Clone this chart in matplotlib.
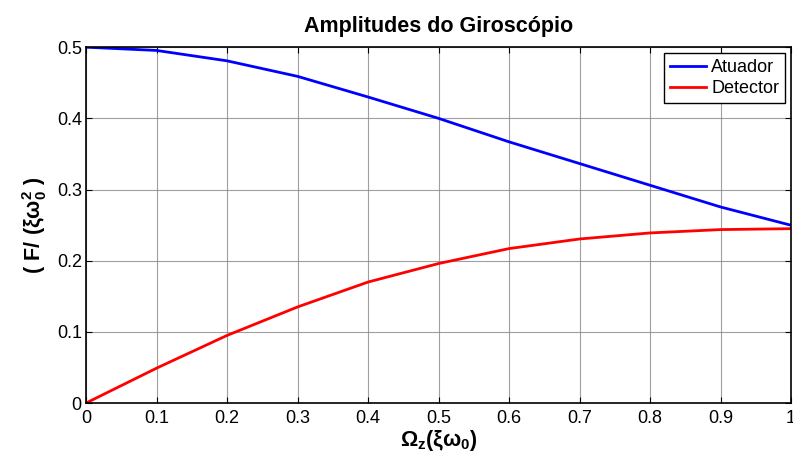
import matplotlib
matplotlib.use("Agg")
import matplotlib.pyplot as plt
import numpy as np

omega = [0.0, 0.1, 0.2, 0.3, 0.4, 0.5, 0.6, 0.7, 0.8, 0.9, 1.0]
atuador = [0.5, 0.4954, 0.4808, 0.459, 0.430, 0.400, 0.367, 0.3365, 0.306, 0.2755, 0.2498]
detector = [0.0, 0.049, 0.095, 0.135, 0.170, 0.196, 0.217, 0.2305, 0.239, 0.2437, 0.245]
xticks = [0, 0.1, 0.2, 0.3, 0.4, 0.5, 0.6, 0.7, 0.8, 0.9, 1]
xticklabels = ["0", "0.1", "0.2", "0.3", "0.4", "0.5", "0.6", "0.7", "0.8", "0.9", "1"]
yticks = [0, 0.1, 0.2, 0.3, 0.4, 0.5]
yticklabels = ["0", "0.1", "0.2", "0.3", "0.4", "0.5"]

plt.rcParams["font.family"] = "Liberation Sans"
plt.rcParams["mathtext.fontset"] = "custom"
plt.rcParams["mathtext.rm"] = "Liberation Sans:bold"
plt.rcParams["mathtext.it"] = "Liberation Sans:bold"
plt.rcParams["mathtext.bf"] = "Liberation Sans:bold"
plt.rcParams["mathtext.default"] = "bf"

fig = plt.figure(figsize=(7.93, 4.58), dpi=100)
ax = fig.add_axes([0.1085, 0.120, 0.889, 0.777])

ax.plot(omega, atuador, color="#0000ff", lw=2, label="Atuador")
ax.plot(omega, detector, color="#ff0000", lw=2, label="Detector")

ax.set_xlim(0, 1); ax.set_ylim(0, 0.5)
ax.set_xticks(xticks); ax.set_xticklabels(xticklabels)
ax.set_yticks(yticks); ax.set_yticklabels(yticklabels)
ax.tick_params(direction="in", top=True, right=True, labelsize=13, length=4)
ax.tick_params(axis="x", pad=5)
ax.tick_params(axis="y", pad=3)
ax.grid(True, color="#888888", lw=0.8, alpha=0.8)
for s in ax.spines.values():
    s.set_linewidth(1.2)

ax.set_title("Amplitudes do Giroscópio", fontsize=15.5, fontweight="bold", pad=11)
ax.set_xlabel(r"$\Omega_z(\xi\omega_0)$", fontsize=15.5, labelpad=1)
ax.set_ylabel(r"$(\ F/\ (\xi\omega_0^2\ )$", fontsize=15.5, labelpad=6)

leg = ax.legend(loc="upper right", fontsize=13, fancybox=False, framealpha=1,
                edgecolor="black", borderaxespad=0.35, handlelength=2.0,
                borderpad=0.3, labelspacing=0.25, handletextpad=0.3)
leg.get_frame().set_linewidth(1.0)

fig.savefig("out.png", dpi=100)
